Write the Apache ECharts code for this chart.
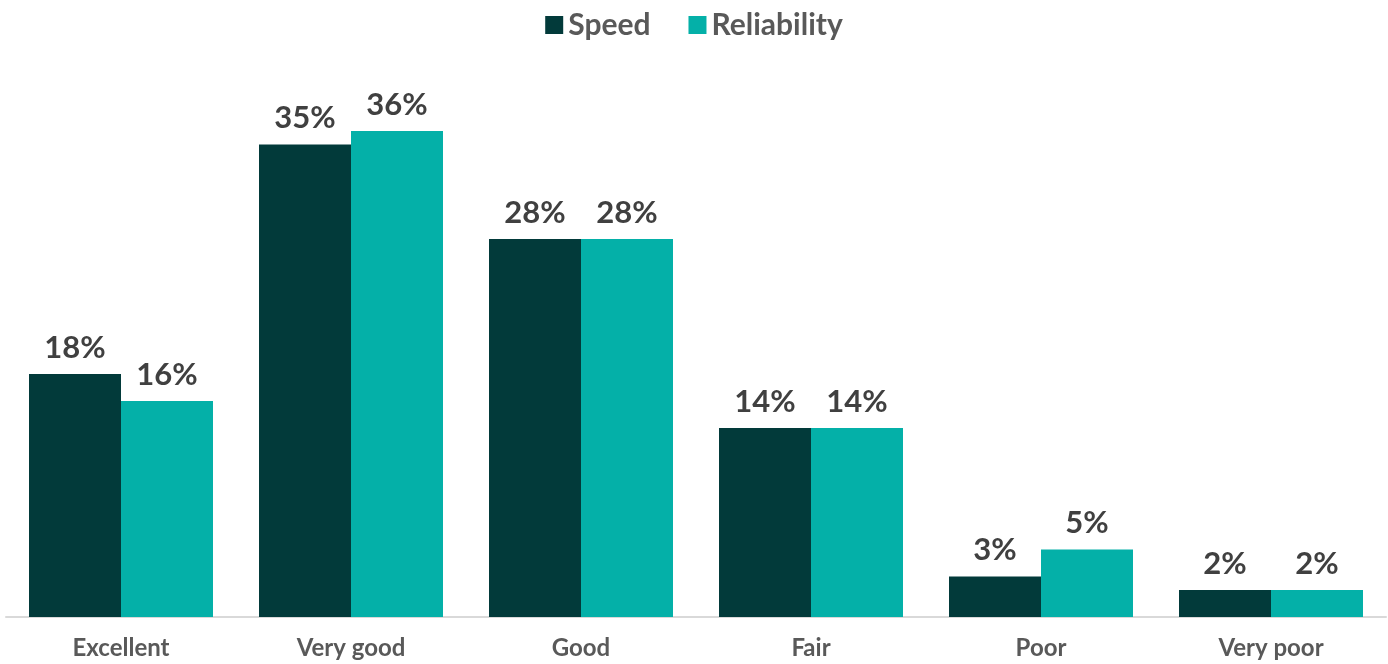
<!DOCTYPE html>
<html>
<head>
<meta charset="utf-8">
<script src="https://cdn.jsdelivr.net/npm/echarts@6/dist/echarts.min.js"></script>
<style>
  html, body { margin: 0; padding: 0; background: #ffffff; }
  #chart { width: 1388px; height: 664px; }
</style>
</head>
<body>
<div id="chart"></div>
<script>
// Ratings and the share of respondents giving each one (%)
const categories = ['Excellent', 'Very good', 'Good', 'Fair', 'Poor', 'Very poor'];
const speedValues = [18, 35, 28, 14, 3, 2];
const reliabilityValues = [16, 36, 28, 14, 5, 2];
const seriesNames = ['Speed', 'Reliability'];

const FONT = 'Lato, "Open Sans", sans-serif';
const COLORS = ['#023a3a', '#04b0a8'];

const labelStyle = {
  show: true,
  position: 'top',
  distance: 11,
  formatter: '{c}%',
  color: '#404040',
  fontFamily: FONT,
  fontWeight: 'bold',
  fontSize: 31
};

const chart = echarts.init(document.getElementById('chart'), null, { renderer: 'canvas' });
chart.setOption({
  animation: false,
  backgroundColor: '#ffffff',
  color: COLORS,
  legend: {
    top: 5,
    left: 'center',
    itemWidth: 18,
    itemHeight: 18,
    itemGap: 38,
    icon: 'rect',
    textStyle: { color: '#595959', fontFamily: FONT, fontWeight: 'bold', fontSize: 30 },
    data: seriesNames
  },
  grid: { left: 6, right: 2, top: 77, bottom: 47, containLabel: false },
  xAxis: {
    type: 'category',
    data: categories,
    axisLine: { show: true, lineStyle: { color: '#d9d9d9', width: 2 } },
    axisTick: { show: false },
    axisLabel: {
      color: '#595959', fontFamily: FONT, fontWeight: 'bold', fontSize: 24, margin: 19
    }
  },
  yAxis: {
    type: 'value',
    min: 0,
    max: 40,
    show: false,
    splitLine: { show: false }
  },
  series: [
    {
      name: seriesNames[0],
      type: 'bar',
      data: speedValues,
      barGap: '0%',
      barCategoryGap: '20%',
      label: labelStyle
    },
    {
      name: seriesNames[1],
      type: 'bar',
      data: reliabilityValues,
      barGap: '0%',
      barCategoryGap: '20%',
      label: labelStyle
    }
  ]
});
</script>
</body>
</html>
